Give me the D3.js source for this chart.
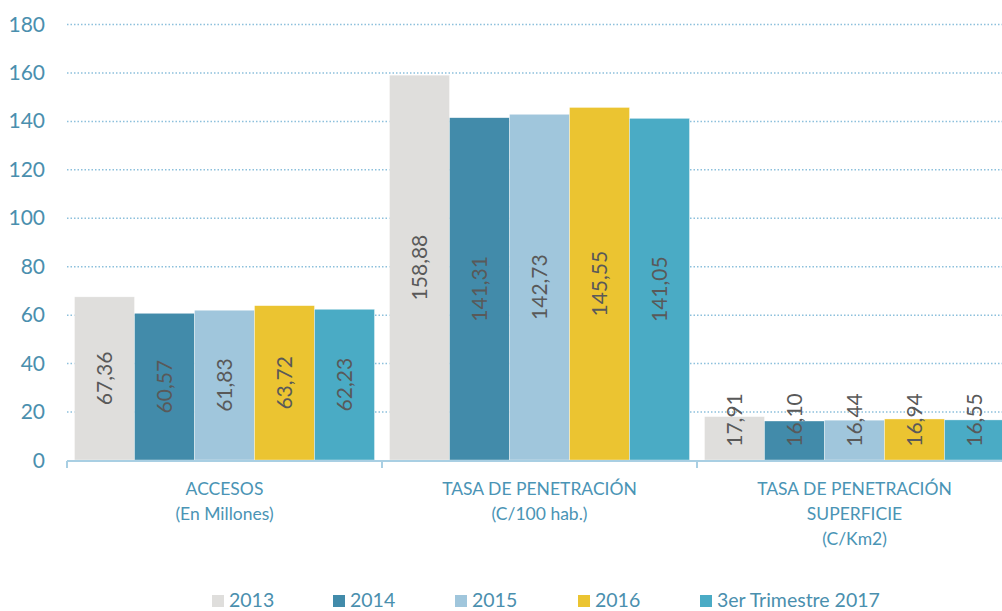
<!DOCTYPE html>
<html>
<head>
<meta charset="utf-8">
<script src="https://cdn.jsdelivr.net/npm/d3@7"></script>
<style>
  body { margin: 0; background: #fff; }
  #chart { width: 1002px; height: 611px; }
  text { font-family: Lato, "Open Sans", sans-serif; }
</style>
</head>
<body>
<div id="chart"></div>
<script>
// categories (multi-line labels)
const categories = ["ACCESOS", "TASA DE PENETRACIÓN", "TASA DE PENETRACIÓN SUPERFICIE"];
const categoryLines = [
  ["ACCESOS", "(En Millones)"],
  ["TASA DE PENETRACIÓN", "(C/100 hab.)"],
  ["TASA DE PENETRACIÓN", "SUPERFICIE", "(C/Km2)"]
];
const seriesNames = ["2013", "2014", "2015", "2016", "3er Trimestre 2017"];
const seriesColors = ["#dfdedc", "#428baa", "#a0c6dc", "#ebc431", "#4aabc5"];

const values2013 = [67.36, 158.88, 17.91];
const values2014 = [60.57, 141.31, 16.10];
const values2015 = [61.83, 142.73, 16.44];
const values2016 = [63.72, 145.55, 16.94];
const values2017 = [62.23, 141.05, 16.55];
const yTicks = [0, 20, 40, 60, 80, 100, 120, 140, 160, 180];

const seriesValues = [values2013, values2014, values2015, values2016, values2017];

const width = 1002, height = 611;
const svg = d3.select("#chart").append("svg")
  .attr("width", width)
  .attr("height", height)
  .style("display", "block");

const y = d3.scaleLinear().domain([0, 180]).range([460, 24]);
const x0 = d3.scaleBand().domain(categories).range([67, 1012]).padding(0);
const x1 = d3.scaleBand().domain(seriesNames).range([0, x0.bandwidth()])
  .paddingInner(0).paddingOuter(0.125);

const fmt = v => v.toFixed(2).replace(".", ",");

// gridlines
svg.append("g")
  .selectAll("line")
  .data(yTicks.filter(d => d > 0))
  .join("line")
  .attr("x1", 67).attr("x2", width)
  .attr("y1", d => y(d) + 0.5).attr("y2", d => y(d) + 0.5)
  .attr("stroke", "#8cc0dc")
  .attr("stroke-width", 1.5)
  .attr("stroke-dasharray", "1.5,2");

// y tick labels
svg.append("g")
  .selectAll("text")
  .data(yTicks)
  .join("text")
  .attr("x", 45)
  .attr("y", d => y(d))
  .attr("dy", "0.36em")
  .attr("text-anchor", "end")
  .attr("font-size", 21)
  .attr("fill", "#4a8fae")
  .text(d => d);

// bars
const groups = svg.append("g")
  .selectAll("g")
  .data(categories)
  .join("g")
  .attr("transform", d => `translate(${x0(d)},0)`);

const barData = (c, ci) => seriesNames.map((s, si) => ({
  cat: c, series: s, value: seriesValues[si][ci], color: seriesColors[si]
}));

groups.selectAll("rect")
  .data((c, ci) => barData(c, ci))
  .join("rect")
  .attr("x", d => x1(d.series))
  .attr("y", d => y(d.value))
  .attr("width", x1.bandwidth())
  .attr("height", d => y(0) - y(d.value))
  .attr("fill", d => d.color)
  .attr("stroke", "rgba(255,255,255,0.6)")
  .attr("stroke-width", 0.6);

// data labels (rotated)
groups.selectAll("text.lbl")
  .data((c, ci) => barData(c, ci))
  .join("text")
  .attr("class", "lbl")
  .attr("font-size", 21)
  .attr("fill", "#595959")
  .attr("text-anchor", "middle")
  .attr("dy", "0.36em")
  .attr("transform", d => {
    const cx = x1(d.series) + x1.bandwidth() / 2;
    const mid = (y(d.value) + y(0)) / 2;
    const cy = Math.min(mid, y(0) - 40);
    return `translate(${cx},${cy}) rotate(-90)`;
  })
  .text(d => fmt(d.value));

// x axis line and ticks
const axis = svg.append("g");
axis.append("line")
  .attr("x1", 67).attr("x2", width)
  .attr("y1", 461).attr("y2", 461)
  .attr("stroke", "#a9cfe3")
  .attr("stroke-width", 2);
axis.selectAll("line.tk")
  .data([...categories.map(c => x0(c)), x0.range()[1]])
  .join("line")
  .attr("class", "tk")
  .attr("x1", d => d).attr("x2", d => d)
  .attr("y1", 461).attr("y2", 468)
  .attr("stroke", "#a9cfe3")
  .attr("stroke-width", 2);

// category labels
categories.forEach((c, ci) => {
  const t = svg.append("text")
    .attr("x", x0(c) + x0.bandwidth() / 2)
    .attr("y", 495)
    .attr("text-anchor", "middle")
    .attr("font-size", 17.5)
    .attr("fill", "#4a94b5");
  categoryLines[ci].forEach((line, li) => {
    t.append("tspan")
      .attr("x", x0(c) + x0.bandwidth() / 2)
      .attr("y", 495 + li * 25)
      .text(line);
  });
});

// legend
const legendX = [212, 333, 455, 578, 700];
const legend = svg.append("g")
  .selectAll("g")
  .data(seriesNames)
  .join("g")
  .attr("transform", (d, i) => `translate(${legendX[i]},595)`);
legend.append("rect")
  .attr("width", 12).attr("height", 12)
  .attr("fill", (d, i) => seriesColors[i]);
legend.append("text")
  .attr("x", 17)
  .attr("y", 12)
  .attr("font-size", 19.5)
  .attr("fill", "#4a8fae")
  .text(d => d);
</script>
</body>
</html>
